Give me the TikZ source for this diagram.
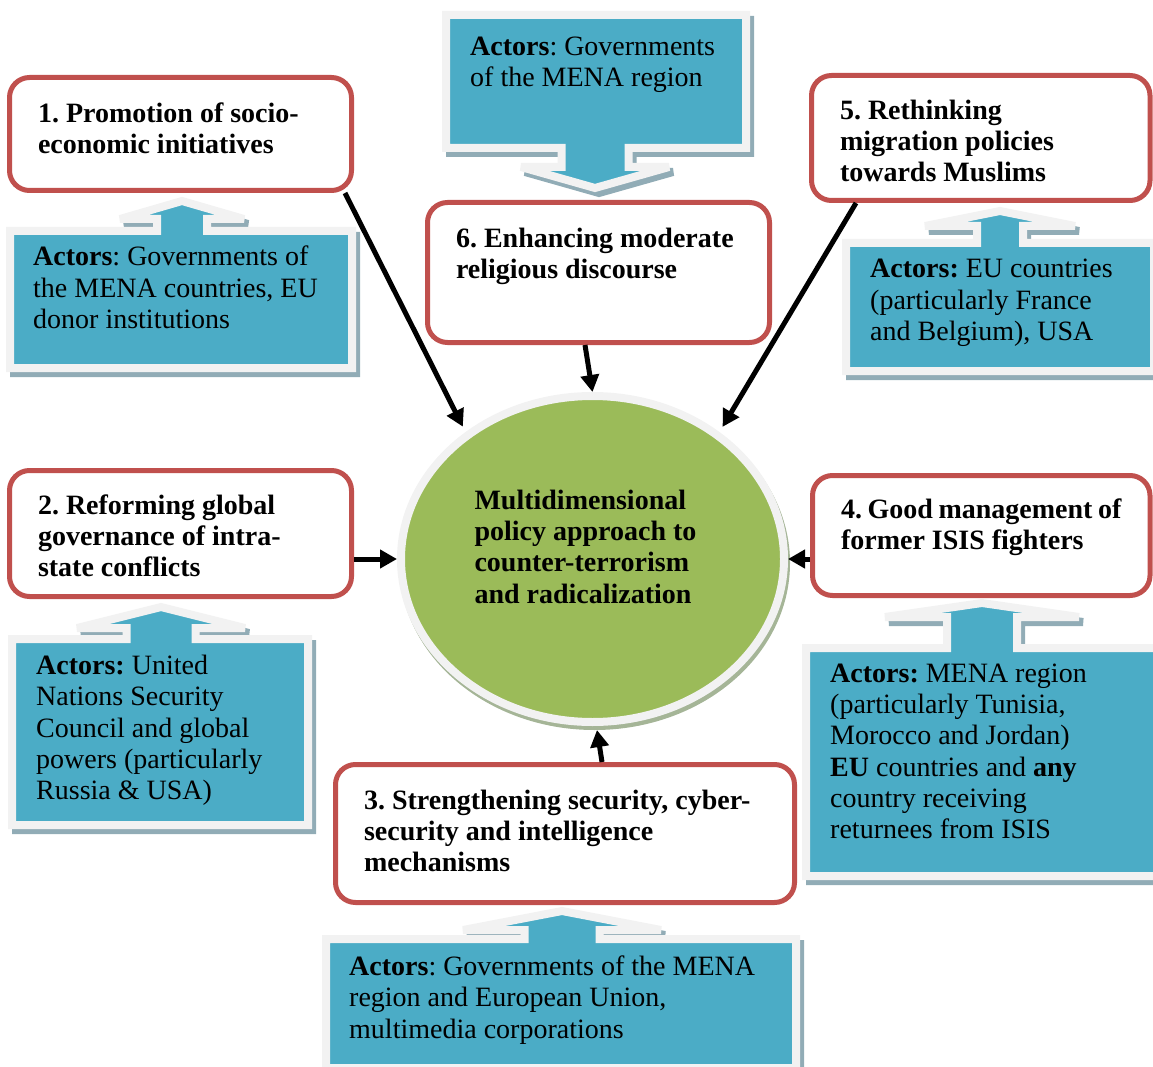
\documentclass[tikz,border=0pt]{standalone}
\usepackage{fontspec}
\setmainfont{Liberation Serif}
\usetikzlibrary{arrows.meta,shapes.geometric}
\definecolor{actorblue}{HTML}{4BACC6}
\definecolor{framegray}{HTML}{F2F2F2}
\definecolor{actorshadow}{HTML}{91ACB6}
\definecolor{boxred}{HTML}{C0504D}
\definecolor{coregreen}{HTML}{9BBB59}
\definecolor{coreshadow}{HTML}{A5B597}
\frenchspacing

\begin{document}
\begin{tikzpicture}[x=1pt,y=-1pt] % pixel units, y grows downwards
\tikzset{every node/.style={font=\fontsize{28}{31.3}\selectfont}} % text size of the whole figure
\tikzset{policy/.style={draw=boxred, fill=white, line width=5pt, rounded corners=20pt, align=flush left, inner xsep=28.5pt, inner ysep=0pt, font=\fontsize{28}{31}\selectfont\bfseries}} % red policy boxes
\tikzset{actor/.style={fill=actorblue, draw=framegray, line width=8pt, miter limit=2, preaction={fill=actorshadow, draw=actorshadow, line width=8pt, miter limit=2, transform canvas={shift={(4pt,-5pt)}}}}} % blue callouts with frame and shadow
\tikzset{actortext/.style={anchor=north west, align=flush left, inner sep=0pt}} % text in the callouts
\tikzset{core/.style={ellipse, fill=coregreen, draw=framegray, line width=8pt, minimum width=383pt, minimum height=326pt, inner sep=0pt, align=flush left, text width=236pt, text depth=119pt, font=\fontsize{28}{31.3}\selectfont\bfseries, preaction={fill=coreshadow, draw=coreshadow, line width=8pt, transform canvas={shift={(2pt,-4pt)}}}}} % central ellipse
\tikzset{flow/.style={-{Triangle[length=17pt,width=18pt]}, line width=5pt}} % black arrows

\useasboundingbox (0,0) rectangle (1153,1067);

% callouts: left/edge with arrow/right/far edge/axis/shaft/wing/head base/tip
\foreach \xl/\ya/\xr/\yb/\ax/\sh/\wg/\bs/\tp in {10/231/352/368/182/25/62/219/201, 446/148/746/15/595/33.5/74/167/188, 846/243/1154/371/1000/23/75/226/211, 12/639/308/825/161/34.5/84/628/607, 806/648/1160/876/982/35/97/617/603, 326/939/796/1068/562/37.5/99/930/911}
  \draw[actor] (\xl,\ya) -- ({\ax-\sh},\ya) -- ({\ax-\sh},\bs) -- ({\ax-\wg},\bs) -- (\ax,\tp) -- ({\ax+\wg},\bs) -- ({\ax+\sh},\bs) -- ({\ax+\sh},\ya) -- (\xr,\ya) -- (\xr,\yb) -- (\xl,\yb) -- cycle;

\node[actortext] (c1) at (33,246) {\textbf{Actors}: Governments of\\the MENA countries, EU\\donor institutions};
\node[actortext] (c6) at (470,36.5) {\textbf{Actors}: Governments\\of the MENA region};
\node[actortext] (c5) at (870,259) {\textbf{Actors:} EU countries\\(particularly France\\and Belgium), USA};
\node[actortext] (c2) at (36,655) {\textbf{Actors:} United\\Nations Security\\Council and global\\powers (particularly\\Russia \& USA)};
\node[actortext] (c4) at (830,663.5) {\textbf{Actors:} MENA region\\(particularly Tunisia,\\Morocco and Jordan)\\\textbf{EU} countries and \textbf{any}\\country receiving\\returnees from ISIS};
\node[actortext] (c3) at (349,955.5) {\textbf{Actors}: Governments of the MENA\\region and European Union,\\multimedia corporations};

% policy boxes
\node[policy, minimum width=342pt, minimum height=113pt, text width=285pt, text depth=43pt] (b1) at (180.5,134) {1. Promotion of socio-\\economic initiatives};
\node[policy, minimum width=342pt, minimum height=140pt, text width=285pt, text depth=70pt] (b6) at (598.5,272.5) {6.~Enhancing~moderate\\religious discourse};
\node[policy, minimum width=338.5pt, minimum height=125pt, text width=281.5pt, text depth=57pt] (b5) at (980.75,138) {5. Rethinking\\migration policies\\towards Muslims};
\node[policy, minimum width=342pt, minimum height=126pt, text width=285pt, text depth=58pt] (b2) at (180.5,533.5) {2. Reforming global\\governance of intra-\\state conflicts};
\node[policy, minimum width=337.5pt, minimum height=120pt, text width=280.5pt, text depth=54pt] (b4) at (981.25,535.5) {4.~Good~management~of\\former ISIS fighters};
\node[policy, minimum width=459pt, minimum height=138pt, text width=402pt, text depth=68pt] (b3) at (565,833.5) {3. Strengthening security, cyber-\\security and intelligence\\mechanisms};

\node[core] (ell) at (592.5,559) {Multidimensional\\policy approach to\\counter-terrorism\\and radicalization};

\draw[flow, shorten >=6pt] ([xshift=-9pt]b1.south east) -- (ell.135);
\draw[flow] ([xshift=-13.5pt]b6.south) -- (ell.north);
\draw[flow, shorten >=6pt] ([xshift=47pt]b5.south west) -- (ell.45);
\draw[flow] (b2.east |- ell.west) -- (ell.west);
\draw[flow] (b4.west |- ell.east) -- (ell.east);
\draw[flow] ([xshift=37pt]b3.north) -- ([shift={(4.5,4)}]ell.south);
\end{tikzpicture}
\end{document}
